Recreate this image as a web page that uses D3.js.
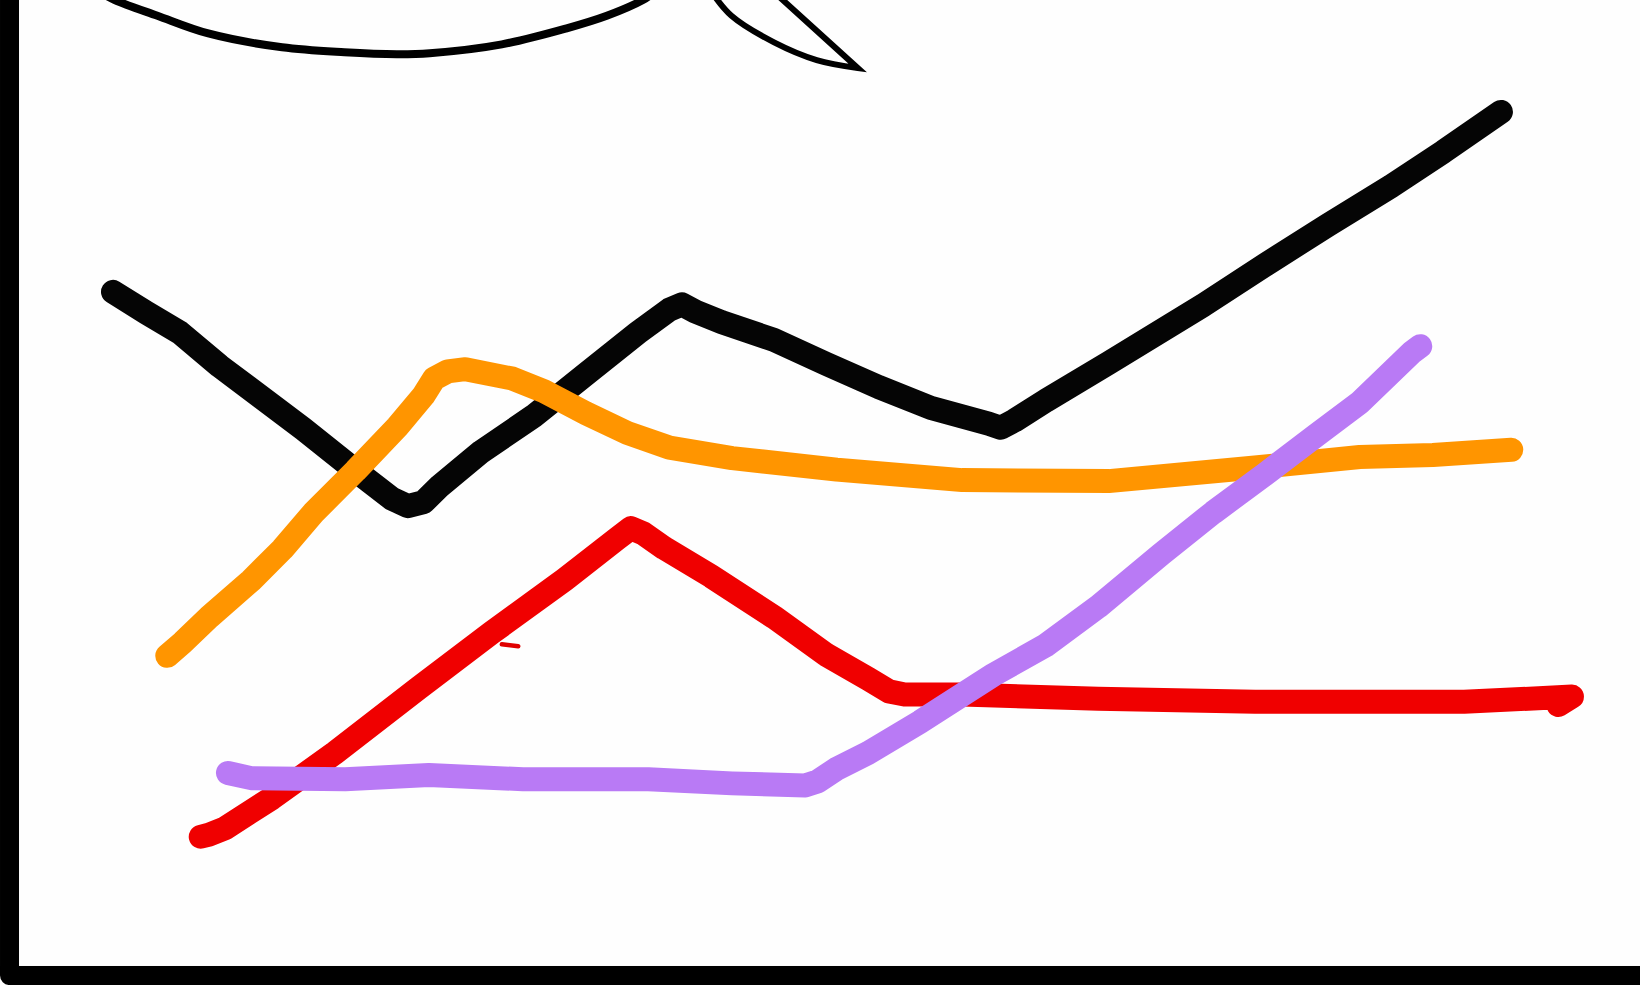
<!DOCTYPE html>
<html>
<head>
<meta charset="utf-8">
<script src="https://cdn.jsdelivr.net/npm/d3@7"></script>
<style>
  html, body { margin: 0; padding: 0; background: #fefefe; }
  #container { width: 1640px; height: 985px; overflow: hidden; }
</style>
</head>
<body>
<div id="container"></div>
<script>
// sketch units: x 0..100 across, y 0..100 bottom to top
let blackX = [6.89, 8.93, 10.97, 13.39, 15.94, 18.49, 21.68, 23.92, 24.87, 25.83, 26.79, 29.34, 32.52, 35.71, 38.90, 40.82, 41.58, 42.41, 44.00, 47.19, 50.38, 53.57, 56.76, 60.27, 61.03, 61.86, 63.77, 67.60, 73.34, 77.17, 80.99, 84.82, 88.01, 91.52];
let blackY = [70.37, 68.25, 66.23, 62.84, 59.65, 56.47, 52.22, 49.35, 48.61, 49.03, 50.62, 54.13, 57.74, 61.99, 66.23, 68.57, 69.10, 68.36, 67.30, 65.49, 63.05, 60.71, 58.59, 57.00, 56.57, 57.31, 59.33, 63.15, 68.99, 73.14, 77.17, 81.10, 84.60, 88.64];

let orangeX = [10.20, 11.16, 12.75, 15.31, 17.22, 19.13, 21.68, 24.23, 25.83, 26.47, 27.30, 28.38, 31.25, 33.16, 35.71, 38.26, 40.82, 44.64, 51.02, 58.67, 67.60, 76.53, 82.91, 87.37, 92.15];
let orangeY = [33.42, 34.80, 37.35, 41.07, 44.25, 47.97, 52.22, 56.68, 59.86, 61.56, 62.30, 62.52, 61.56, 60.29, 58.06, 56.04, 54.55, 53.49, 52.32, 51.26, 51.16, 52.54, 53.60, 53.81, 54.34];

let redX = [12.24, 12.75, 13.71, 16.58, 20.41, 25.51, 29.97, 34.44, 37.63, 38.46, 39.22, 40.50, 43.37, 47.19, 50.38, 52.93, 54.21, 55.16, 58.67, 66.96, 76.53, 89.28, 95.85, 95.02];
let redY = [15.05, 15.27, 15.90, 18.98, 23.55, 30.13, 35.76, 41.17, 45.32, 46.38, 45.85, 44.36, 41.49, 37.35, 33.53, 31.09, 29.81, 29.49, 29.49, 29.07, 28.75, 28.75, 29.28, 28.43];

let purpleX = [13.90, 15.31, 21.05, 26.15, 31.89, 39.54, 44.64, 49.11, 49.87, 51.02, 52.93, 56.12, 60.59, 63.77, 66.96, 70.79, 73.98, 77.17, 80.35, 82.91, 86.09, 86.60];
let purpleY = [21.53, 21.00, 20.89, 21.32, 20.89, 20.89, 20.47, 20.26, 20.68, 21.96, 23.55, 26.73, 31.51, 34.49, 38.41, 43.72, 47.97, 51.90, 55.93, 59.12, 64.22, 64.85];

// stray red mark
let dashX = [30.6, 31.6];
let dashY = [34.6, 34.4];

// speech bubble cut off at the top
let bubbleX = [6.1, 7.0, 9.6, 12.7, 17.2, 21.0, 24.2, 26.2, 30.6, 34.5, 37.0, 39.2, 39.9];
let bubbleY = [100.8, 100, 98.4, 96.6, 95.2, 94.7, 94.5, 94.6, 95.5, 97.1, 98.4, 100, 100.8];
let tailX = [43.4, 44.6, 47.2, 49.8, 52.3, 47.2];
let tailY = [100.8, 98.4, 95.7, 93.9, 93.1, 100.8];

// hand drawn axis corner (left edge, bottom edge)
let axisX = [0.58, 0.58, 101];
let axisY = [101, 0.96, 0.96];

let w = 1640;
let h = 985;

let viz = d3.select("#container")
  .append("svg")
  .attr("width", w)
  .attr("height", h)
  ;

let xScale = d3.scaleLinear().domain([0, 100]).range([0, w]);
let yScale = d3.scaleLinear().domain([0, 100]).range([h, 0]);

function pts(xs, ys) {
  return xs.map(function (x, i) { return [x, ys[i]]; });
}

let line = d3.line()
  .x(function (d) { return xScale(d[0]); })
  .y(function (d) { return yScale(d[1]); })
  .curve(d3.curveLinear);

let smooth = d3.line()
  .x(function (d) { return xScale(d[0]); })
  .y(function (d) { return yScale(d[1]); })
  .curve(d3.curveCatmullRom.alpha(0.5));

let series = [
  { name: "black", color: "#050505", data: pts(blackX, blackY) },
  { name: "orange", color: "#ff9500", data: pts(orangeX, orangeY) },
  { name: "red", color: "#f00000", data: pts(redX, redY) },
  { name: "purple", color: "#b97af5", data: pts(purpleX, purpleY) }
];

// bubble
viz.append("path")
  .attr("d", smooth(pts(bubbleX, bubbleY)))
  .attr("fill", "none")
  .attr("stroke", "#000")
  .attr("stroke-width", 8)
  .attr("stroke-linecap", "round");

let tailPts = pts(tailX, tailY);
viz.append("path")
  .attr("d", smooth(tailPts.slice(0, 5)) + "L" + xScale(tailX[5]) + "," + yScale(tailY[5]))
  .attr("fill", "#fefefe")
  .attr("stroke", "#000")
  .attr("stroke-width", 6)
  .attr("stroke-linejoin", "miter");

// lines
viz.selectAll(".sketchline")
  .data(series)
  .enter()
  .append("path")
  .attr("class", "sketchline")
  .attr("d", function (d) { return line(d.data); })
  .attr("fill", "none")
  .attr("stroke", function (d) { return d.color; })
  .attr("stroke-width", 24)
  .attr("stroke-linecap", "round")
  .attr("stroke-linejoin", "round");

viz.append("path")
  .attr("d", line(pts(dashX, dashY)))
  .attr("stroke", "#e00000")
  .attr("stroke-width", 4.5)
  .attr("stroke-linecap", "round");

// axes drawn as thick marker strokes
viz.append("path")
  .attr("d", line(pts(axisX, axisY)))
  .attr("fill", "none")
  .attr("stroke", "#000")
  .attr("stroke-width", 19)
  .attr("stroke-linejoin", "round");

viz.append("rect")
  .attr("x", xScale(0.6))
  .attr("y", yScale(1.93))
  .attr("width", w)
  .attr("height", h - yScale(1.93))
  .attr("fill", "#000");
</script>
</body>
</html>
